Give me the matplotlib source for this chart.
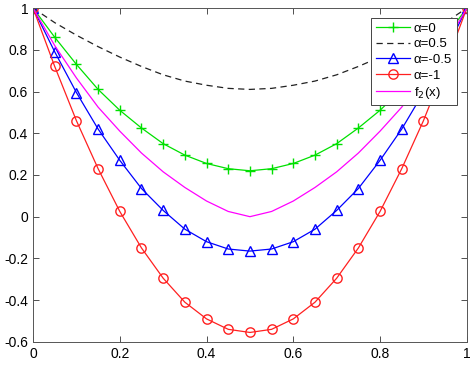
import numpy as np
import matplotlib.pyplot as plt

plt.rcParams['font.family'] = ['Liberation Sans', 'DejaVu Sans']

x = np.round(np.arange(0, 1.0001, 0.05), 2)

half_a0 = [1.0, 0.86, 0.73, 0.61, 0.51, 0.425, 0.35, 0.295, 0.255, 0.23, 0.22]
half_a05 = [1.0, 0.93, 0.87, 0.815, 0.765, 0.72, 0.68, 0.65, 0.63, 0.615, 0.61]
half_am05 = [1.0, 0.79, 0.595, 0.42, 0.27, 0.135, 0.03, -0.06, -0.12, -0.155, -0.165]
half_am1 = [1.0, 0.72, 0.46, 0.23, 0.025, -0.15, -0.295, -0.41, -0.49, -0.54, -0.555]
half_f2 = [1.0, 0.82, 0.665, 0.525, 0.41, 0.305, 0.215, 0.14, 0.075, 0.025, 0.0]


def mirror(h):
    return h + h[-2::-1]


a0 = mirror(half_a0)
a05 = mirror(half_a05)
am05 = mirror(half_am05)
am1 = mirror(half_am1)
f2 = mirror(half_f2)

fig = plt.figure(figsize=(4.72, 3.66), dpi=100)
ax = fig.add_axes([0.07, 0.066, 0.919, 0.912])

lw = 0.9
ax.plot(x, a0, color='#00e000', marker='+', markersize=7, lw=lw, label='α=0')
ax.plot(x, a05, color='#222222', ls=(0, (5, 3.5)), lw=lw, label='α=0.5')
ax.plot(x, am05, color='#0000ff', marker='^', markersize=7, mfc='none', lw=lw, label='α=-0.5')
ax.plot(x, am1, color='#ff2020', marker='o', markersize=6.7, mfc='none', lw=lw, label='α=-1')
ax.plot(x, f2, color='#ff00ff', lw=lw, label=r'f$_2$(x)')

ax.set_xlim(0, 1)
ax.set_ylim(-0.6, 1)
ax.set_xticks([0, 0.2, 0.4, 0.6, 0.8, 1])
ax.set_xticklabels(['0', '0.2', '0.4', '0.6', '0.8', '1'])
ax.set_yticks([-0.6, -0.4, -0.2, 0, 0.2, 0.4, 0.6, 0.8, 1])
ax.set_yticklabels(['-0.6', '-0.4', '-0.2', '0', '0.2', '0.4', '0.6', '0.8', '1'])
ax.tick_params(direction='in', top=True, right=True, labelsize=10, colors='#333333',
               length=4, width=0.6, labelcolor='black')
for s in ax.spines.values():
    s.set_color('#555555')
    s.set_linewidth(0.7)

leg = ax.legend(loc='upper right', fontsize=9.5, fancybox=False, framealpha=1,
                edgecolor='#444444', handlelength=2.6, borderpad=0.35,
                labelspacing=0.25, handletextpad=0.3, borderaxespad=0,
                bbox_to_anchor=(0.977, 0.97))
leg.get_frame().set_linewidth(0.7)

fig.savefig('out.png', dpi=100)
